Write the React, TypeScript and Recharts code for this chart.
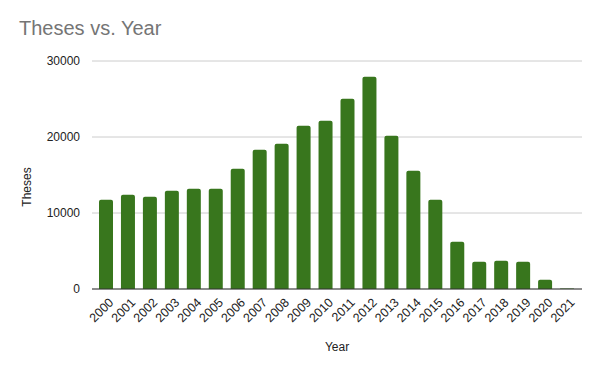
import React from "react"
import { Bar, BarChart, CartesianGrid, XAxis, YAxis, Label } from "recharts"

const years = [
  "2000", "2001", "2002", "2003", "2004", "2005", "2006", "2007", "2008", "2009", "2010",
  "2011", "2012", "2013", "2014", "2015", "2016", "2017", "2018", "2019", "2020", "2021",
]
const theses = [
  11750, 12400, 12150, 12930, 13200, 13200, 15830, 18330, 19120, 21490, 22150,
  25040, 27930, 20170, 15570, 11750, 6220, 3590, 3720, 3590, 1220, 60,
]
const yTicks = [0, 10000, 20000, 30000]

const data = years.map((year, i) => ({ year, theses: theses[i] }))

const font = "Arial, 'Liberation Sans', sans-serif"

// rotated year labels, right end sits under the bar
function YearTick({ x, y, payload }: any) {
  return (
    <g transform={`translate(${x + 2},${y})`}>
      <text
        transform="rotate(-45)"
        textAnchor="end"
        dy="0.71em"
        fontSize={12.5}
        fontFamily={font}
        fill="#222222"
      >
        {payload.value}
      </text>
    </g>
  )
}

export default function App() {
  return (
    <div style={{ position: "absolute", left: 0, top: 0, width: 600, height: 371, background: "#fff" }}>
      <div
        style={{
          position: "absolute",
          left: 19,
          top: 17,
          fontFamily: font,
          fontSize: 20,
          color: "#757575",
          whiteSpace: "nowrap",
        }}
      >
        Theses vs. Year
      </div>
      <div
        style={{
          position: "absolute",
          left: 27,
          top: 187,
          transform: "translate(-50%, -50%) rotate(-90deg)",
          fontFamily: font,
          fontSize: 12,
          color: "#222222",
          whiteSpace: "nowrap",
          zIndex: 1,
        }}
      >
        Theses
      </div>
      <BarChart
        width={600}
        height={371}
        data={data}
        margin={{ top: 61, right: 18, bottom: 20, left: 40 }}
        barSize={14}
      >
        <CartesianGrid vertical={false} stroke="#cccccc" />
        <XAxis
          dataKey="year"
          interval={0}
          padding={{ left: 3, right: 4 }}
          tickLine={false}
          axisLine={{ stroke: "#333333" }}
          tick={<YearTick />}
          height={62}
        >
          <Label value="Year" position="insideBottom" offset={0} fontSize={12} fontFamily={font} fill="#222222" />
        </XAxis>
        <YAxis
          domain={[0, 30000]}
          ticks={yTicks}
          tickLine={false}
          axisLine={false}
          width={52}
          tick={{ fontSize: 12, fontFamily: font, fill: "#222222" }}
          tickMargin={6}
        />
        <Bar dataKey="theses" fill="#38761d" radius={[2, 2, 0, 0]} isAnimationActive={false} />
      </BarChart>
    </div>
  )
}
